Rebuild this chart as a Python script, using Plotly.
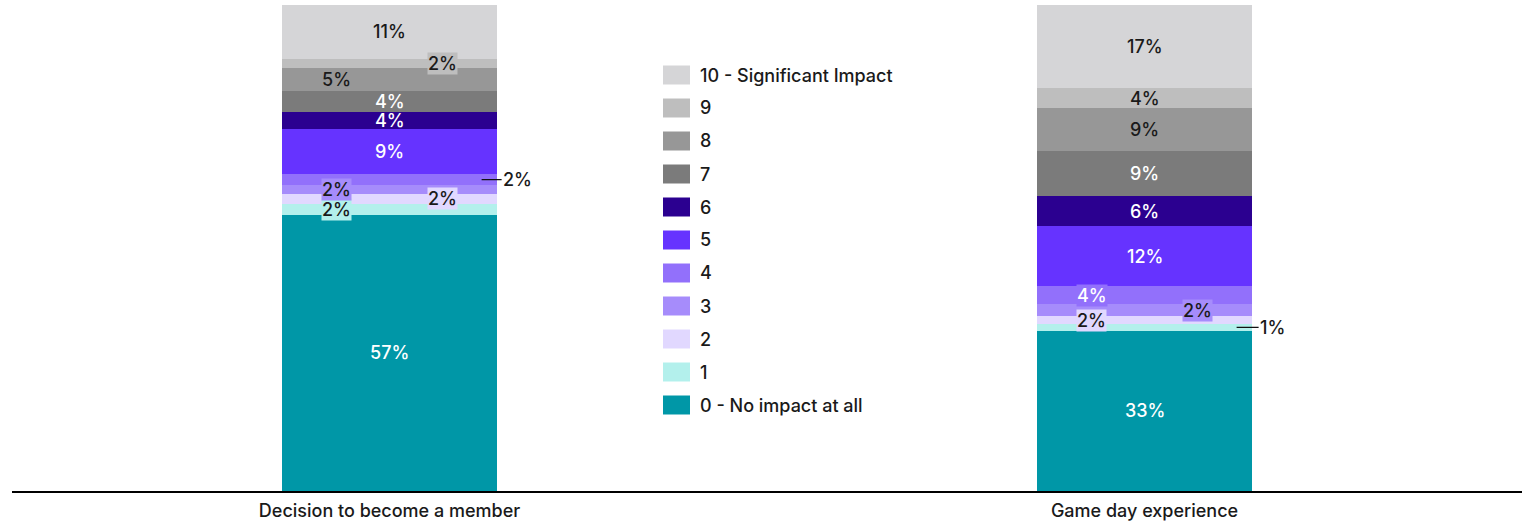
import plotly.graph_objects as go

categories = ["Decision to become a member", "Game day experience"]
levels = ["0 - No impact at all", "1", "2", "3", "4", "5", "6", "7", "8", "9", "10 - Significant Impact"]
# share of respondents (%) per level, bottom (0) to top (10)
decision_values = [56.8, 2.2, 2.2, 1.7, 2.3, 9.3, 3.5, 4.4, 4.6, 1.9, 11.1]
gameday_values = [33.0, 1.3, 1.7, 2.4, 3.8, 12.3, 6.2, 9.3, 8.8, 4.1, 17.1]

colors = ["#0097a7", "#b3f0ec", "#e1d8ff", "#a68cfb", "#9270fb", "#6633ff",
          "#2b0090", "#7b7b7b", "#979797", "#bebebe", "#d5d5d7"]
# label placement per segment: c=centre, l=left, r=right, o=outside callout
placements = [
    ["c", "l", "r", "l", "o", "c", "c", "c", "l", "r", "c"],
    ["c", "o", "l", "r", "l", "c", "c", "c", "c", "c", "c"],
]
DARK = "#1a1a1a"
text_colors_by_bar = [
    ["white", DARK, DARK, DARK, DARK, "white", "white", "white", DARK, DARK, DARK],
    ["white", DARK, DARK, DARK, "white", "white", "white", "white", DARK, DARK, DARK],
]

series = [decision_values, gameday_values]
FONT = "Inter, Roboto, sans-serif"
FS = 18
WT = 500

fig = go.Figure()
for k, lvl in enumerate(levels):
    fig.add_trace(go.Bar(
        x=[0, 1], y=[series[0][k], series[1][k]], name=lvl,
        marker=dict(color=colors[k], line=dict(width=0)),
        width=0.286, showlegend=False, hoverinfo="name+y",
    ))

annotations = []
for b, vals in enumerate(series):
    cum = 0.0
    for k, v in enumerate(vals):
        mid = cum + v / 2
        cum += v
        txt = f"{round(v)}%"
        p = placements[b][k]
        tc = text_colors_by_bar[b][k]
        if p == "o":
            annotations.append(dict(
                x=b + 0.122, y=mid, xref="x", yref="y", text=txt,
                showarrow=True, arrowhead=0, arrowwidth=1.3, arrowcolor="#111",
                ax=36, ay=0, standoff=0,
                font=dict(family=FONT, size=FS, color=DARK, weight=WT),
            ))
        else:
            shift = {"c": 0, "l": -53, "r": 53}[p]
            a = dict(x=b, y=mid, xref="x", yref="y", text=txt, showarrow=False,
                     xshift=shift, font=dict(family=FONT, size=FS, color=tc, weight=WT))
            if p != "c":
                a.update(bgcolor=colors[k], borderpad=0)
            annotations.append(a)

# custom legend (large swatches)
L, T, B, R = 12, 5, 491, 1522
W, H = R - L, B - T
shapes = []
for i, k in enumerate(range(len(levels) - 1, -1, -1)):
    cy = 75 + 33 * i
    shapes.append(dict(type="rect", xref="paper", yref="paper",
                       x0=(663 - L) / W, x1=(690 - L) / W,
                       y0=(B - (cy + 9.5)) / H, y1=(B - (cy - 9.5)) / H,
                       fillcolor=colors[k], line=dict(width=0)))
    annotations.append(dict(x=(698 - L) / W, y=(B - cy) / H, xref="paper", yref="paper",
                            text=levels[k], showarrow=False, xanchor="left", yanchor="middle",
                            font=dict(family=FONT, size=FS, color=DARK, weight=WT)))

fig.update_layout(
    barmode="stack",
    width=1527, height=522,
    margin=dict(l=L, r=1527 - R, t=T, b=522 - B, autoexpand=False),
    paper_bgcolor="white", plot_bgcolor="white",
    showlegend=False,
    annotations=annotations, shapes=shapes,
    bargap=0,
)
fig.update_xaxes(range=[-0.5, 1.5], tickvals=[0, 1], ticktext=categories,
                 showline=True, linecolor="#000", linewidth=2, ticks="",
                 showgrid=False, zeroline=False, ticklabelstandoff=2, automargin=False,
                 tickfont=dict(family=FONT, size=FS, color=DARK, weight=WT))
fig.update_yaxes(range=[0, 100], visible=False, showgrid=False, zeroline=False, automargin=False)

fig.write_html("out.html")
